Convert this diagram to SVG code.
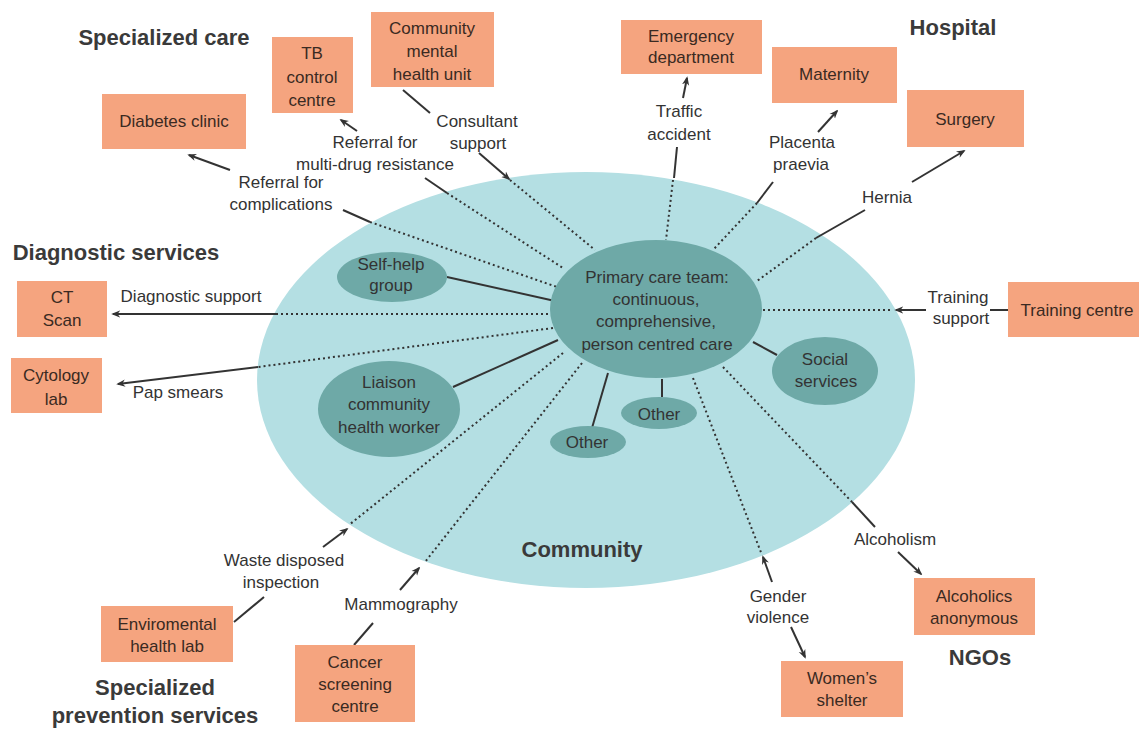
<svg xmlns="http://www.w3.org/2000/svg" width="1139" height="731" viewBox="0 0 1139 731">
<style>
.box{fill:#f5a47f}
.big{fill:#b4dfe3}
.inner{fill:#6ea9a7}
.t{font-family:"Liberation Sans",Arial,sans-serif;font-size:17px;fill:#333;text-anchor:middle}
.bt{font-family:"Liberation Sans",Arial,sans-serif;font-size:17px;fill:#3a2a22;text-anchor:middle}
.h{font-family:"Liberation Sans",Arial,sans-serif;font-size:22px;font-weight:bold;fill:#3a3a3a;text-anchor:middle}
.dot{stroke:#333;stroke-width:2;stroke-dasharray:2 3;fill:none}
.sol{stroke:#333;stroke-width:2;fill:none}
.arr{stroke:#333;stroke-width:2;fill:none;marker-end:url(#ah)}
</style>
<defs>
<marker id="ah" viewBox="0 0 10 10" refX="8" refY="5" markerWidth="9" markerHeight="9" markerUnits="userSpaceOnUse" orient="auto">
<path d="M0,1 L10,5 L0,9 L3,5 z" fill="#333"/>
</marker>
</defs>
<rect width="1139" height="731" fill="#fff"/>

<g id="community">
<ellipse class="big" cx="586" cy="380" rx="329" ry="208"/>
<text class="h" x="582" y="557">Community</text>
</g>

<g id="connectors">
<path class="dot" d="M370,222 L557,287"/>
<path class="dot" d="M447,193 L563,268"/>
<path class="dot" d="M510,180 L595,250"/>
<path class="dot" d="M673,180 L666,240"/>
<path class="dot" d="M757,203 L713,250"/>
<path class="dot" d="M816,238 L757,281"/>
<path class="dot" d="M763,310 L893,310"/>
<path class="dot" d="M553,314 L277,314"/>
<path class="dot" d="M553,328 L258,367"/>
<path class="dot" d="M563,353 L349,525"/>
<path class="dot" d="M582,363 L425,562"/>
<path class="dot" d="M693,378 L762,555"/>
<path class="dot" d="M723,367 L852,502"/>

<path class="sol" d="M370,222 L343,210"/>
<path class="arr" d="M230,170 L189,155"/>
<path class="sol" d="M447,193 L425,178"/>
<path class="arr" d="M357,131 L341,120"/>
<path class="sol" d="M403,90 L430,113"/>
<path class="arr" d="M479,153 L509,179"/>
<path class="sol" d="M677,147 L674,178"/>
<path class="arr" d="M683,98 L687,78"/>
<path class="sol" d="M773,182 L757,203"/>
<path class="arr" d="M818,132 L837,111"/>
<path class="sol" d="M865,210 L816,238"/>
<path class="arr" d="M912,182 L964,151"/>
<path class="arr" d="M926,310 L896,310"/>
<path class="sol" d="M990,310 L1008,310"/>
<path class="arr" d="M277,314 L113,314"/>
<path class="arr" d="M258,367 L118,384"/>
<path class="arr" d="M323,547 L347,529"/>
<path class="sol" d="M264,597 L234,622"/>
<path class="arr" d="M400,590 L419,568"/>
<path class="sol" d="M373,623 L354,645"/>
<path class="arr" d="M772,582 L763,557"/>
<path class="arr" d="M791,627 L805,657"/>
<path class="sol" d="M852,502 L875,527"/>
<path class="arr" d="M898,552 L921,574"/>

<path class="sol" d="M447,277 L555,301"/>
<path class="sol" d="M453,387 L558,340"/>
<path class="sol" d="M608,373 L592,428"/>
<path class="sol" d="M662,379 L662,397"/>
<path class="sol" d="M753,342 L777,355"/>
</g>

<g id="labels">
<text class="t" x="281" y="188">Referral for</text>
<text class="t" x="281" y="210">complications</text>
<text class="t" x="375" y="148">Referral for</text>
<text class="t" x="375" y="170">multi-drug resistance</text>
<text class="t" x="477" y="127">Consultant</text>
<text class="t" x="478" y="149">support</text>
<text class="t" x="679" y="117">Traffic</text>
<text class="t" x="679" y="140">accident</text>
<text class="t" x="802" y="148">Placenta</text>
<text class="t" x="801" y="170">praevia</text>
<text class="t" x="887" y="203">Hernia</text>
<text class="t" x="958" y="303">Training</text>
<text class="t" x="961" y="324">support</text>
<text class="t" x="191" y="302">Diagnostic support</text>
<text class="t" x="178" y="398">Pap smears</text>
<text class="t" x="284" y="566">Waste disposed</text>
<text class="t" x="281" y="588">inspection</text>
<text class="t" x="401" y="610">Mammography</text>
<text class="t" x="778" y="602">Gender</text>
<text class="t" x="778" y="623">violence</text>
<text class="t" x="895" y="545">Alcoholism</text>
</g>

<g id="titles">
<text class="h" x="164" y="45">Specialized care</text>
<text class="h" x="953" y="35">Hospital</text>
<text class="h" x="116" y="260">Diagnostic services</text>
<text class="h" x="155" y="695">Specialized</text>
<text class="h" x="155" y="723">prevention services</text>
<text class="h" x="980" y="665">NGOs</text>
</g>

<g id="primary-care">
<ellipse class="inner" cx="656" cy="309" rx="106" ry="69"/>
<text class="t" x="657" y="283">Primary care team:</text>
<text class="t" x="656" y="305">continuous,</text>
<text class="t" x="656" y="327">comprehensive,</text>
<text class="t" x="657" y="350">person centred care</text>
</g>
<g id="self-help">
<ellipse class="inner" cx="392" cy="277" rx="55" ry="25"/>
<text class="t" x="391" y="270">Self-help</text>
<text class="t" x="391" y="291">group</text>
</g>
<g id="liaison">
<ellipse class="inner" cx="389" cy="409" rx="71" ry="48"/>
<text class="t" x="389" y="388">Liaison</text>
<text class="t" x="389" y="410">community</text>
<text class="t" x="389" y="433">health worker</text>
</g>
<g id="other-1">
<ellipse class="inner" cx="588" cy="442" rx="38" ry="16"/>
<text class="t" x="587" y="448">Other</text>
</g>
<g id="other-2">
<ellipse class="inner" cx="659" cy="413" rx="38" ry="16"/>
<text class="t" x="659" y="420">Other</text>
</g>
<g id="social-services">
<ellipse class="inner" cx="825" cy="371" rx="53" ry="34"/>
<text class="t" x="825" y="365">Social</text>
<text class="t" x="826" y="387">services</text>
</g>

<g id="diabetes-clinic">
<rect class="box" x="102" y="94" width="144" height="55"/>
<text class="bt" x="174" y="127">Diabetes clinic</text>
</g>
<g id="tb-control">
<rect class="box" x="272" y="37" width="81" height="76"/>
<text class="bt" x="312" y="59">TB</text>
<text class="bt" x="312" y="83">control</text>
<text class="bt" x="312" y="106">centre</text>
</g>
<g id="community-mental">
<rect class="box" x="371" y="12" width="123" height="75"/>
<text class="bt" x="432" y="34">Community</text>
<text class="bt" x="432" y="57">mental</text>
<text class="bt" x="432" y="80">health unit</text>
</g>
<g id="emergency">
<rect class="box" x="621" y="20" width="141" height="54"/>
<text class="bt" x="691" y="42">Emergency</text>
<text class="bt" x="691" y="63">department</text>
</g>
<g id="maternity">
<rect class="box" x="772" y="47" width="125" height="56"/>
<text class="bt" x="834" y="80">Maternity</text>
</g>
<g id="surgery">
<rect class="box" x="907" y="90" width="117" height="57"/>
<text class="bt" x="965" y="125">Surgery</text>
</g>
<g id="ct-scan">
<rect class="box" x="17" y="281" width="90" height="56"/>
<text class="bt" x="62" y="303">CT</text>
<text class="bt" x="62" y="326">Scan</text>
</g>
<g id="cytology">
<rect class="box" x="11" y="358" width="91" height="55"/>
<text class="bt" x="56" y="381">Cytology</text>
<text class="bt" x="56" y="405">lab</text>
</g>
<g id="training-centre">
<rect class="box" x="1008" y="282" width="131" height="55"/>
<text class="bt" x="1077" y="316">Training centre</text>
</g>
<g id="environmental">
<rect class="box" x="101" y="606" width="132" height="56"/>
<text class="bt" x="167" y="630">Enviromental</text>
<text class="bt" x="167" y="652">health lab</text>
</g>
<g id="cancer-screening">
<rect class="box" x="295" y="645" width="120" height="77"/>
<text class="bt" x="355" y="668">Cancer</text>
<text class="bt" x="355" y="690">screening</text>
<text class="bt" x="355" y="712">centre</text>
</g>
<g id="alcoholics">
<rect class="box" x="914" y="578" width="121" height="57"/>
<text class="bt" x="974" y="602">Alcoholics</text>
<text class="bt" x="974" y="624">anonymous</text>
</g>
<g id="womens-shelter">
<rect class="box" x="781" y="661" width="122" height="56"/>
<text class="bt" x="842" y="684">Women’s</text>
<text class="bt" x="842" y="706">shelter</text>
</g>
</svg>
